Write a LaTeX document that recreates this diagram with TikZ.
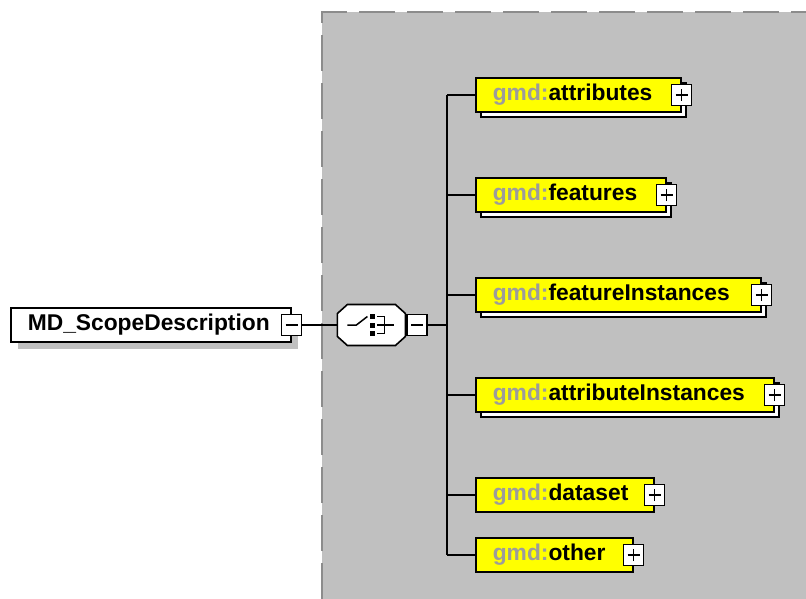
\documentclass[tikz,border=0pt]{standalone}
\usepackage{fontspec}
\setmainfont{Liberation Sans}
\usepackage{xcolor}
\usepackage{tikz}
\usetikzlibrary{positioning,shadows}
\definecolor{fundo}{HTML}{C0C0C0}
\definecolor{bordaRegiao}{HTML}{8C8C8C}
\definecolor{prefixo}{HTML}{9C9C9C}
\definecolor{amarelo}{HTML}{FFFF00}
\newcommand{\gmd}{\textcolor{prefixo}{gmd:}}
\tikzset{
    elemento/.style={
        rectangle,
        draw,
        line width=1.6pt,
        align=left,
        inner xsep=17pt,
        inner ysep=0pt,
        minimum height=34pt,
        font=\fontsize{22.8}{26}\selectfont\bfseries
    },
    raiz/.style={elemento, fill=white,
        drop shadow={shadow xshift=7pt, shadow yshift=-7pt, fill=fundo, opacity=1}},
    filho/.style={elemento, fill=amarelo},
    multiplo/.style={filho,
        copy shadow={shadow xshift=5pt, shadow yshift=-5pt, fill=white, draw=black, line width=1.6pt}},
    botao/.style={rectangle, draw, fill=white, line width=1.6pt,
        minimum width=20pt, minimum height=21pt, inner sep=0pt},
    recolhe/.style={botao,
        path picture={\draw[line width=1.5pt] ([xshift=-6pt]path picture bounding box.center) -- ([xshift=6pt]path picture bounding box.center);}},
    expande/.style={botao,
        path picture={\draw[line width=1.5pt] ([xshift=-6pt]path picture bounding box.center) -- ([xshift=6pt]path picture bounding box.center)
            ([yshift=-6pt]path picture bounding box.center) -- ([yshift=6pt]path picture bounding box.center);}},
    sequencia/.style={rectangle, minimum width=68pt, minimum height=41pt, inner sep=0pt, outer sep=0pt},
    octogono/.style={draw, fill=white, line width=1.6pt},
    ligacao/.style={line width=2pt},
    regiao/.style={draw=bordaRegiao, line width=2pt, dash pattern=on 36pt off 12pt}
}

\begin{document}
\begin{tikzpicture}[x=1pt, y=-1pt]
    \useasboundingbox (0,0) rectangle (806,599);
    % area do grupo
    \fill[fundo] (322,12) rectangle (806,599);
    \draw[regiao] (322,599) -- (322,12) -- (806,12);

    \node[raiz, text width=246pt, anchor=west] (raiz) at (10,325) {MD\_ScopeDescription};
    \node[recolhe] (raizmenos) at (raiz.east) {};
    \node[sequencia, right=35pt of raizmenos] (seq) {};
    \node[recolhe, right=1pt of seq] (seqmenos) {};
    \coordinate[right=19pt of seqmenos] (tronco);

    % simbolo de sequencia
    \draw[octogono] ([xshift=10pt]seq.north west) -- ([xshift=-10pt]seq.north east)
        -- ([yshift=-9pt]seq.north east) -- ([yshift=9pt]seq.south east)
        -- ([xshift=-10pt]seq.south east) -- ([xshift=10pt]seq.south west)
        -- ([yshift=9pt]seq.south west) -- ([yshift=-9pt]seq.north west) -- cycle;
    \begin{scope}[shift={(seq.center)}, line width=1.5pt]
        \draw (-24,0) -- (-15,0) -- (-4,-8.5);
        \foreach \dy in {-8.5,0,8.5}
            \fill (-1,\dy-2.5) rectangle ++(5,5);
        \draw (6,-8.5) -- (13,-8.5) -- (13,8.5) -- (6,8.5);
        \draw (6,0) -- (23,0);
    \end{scope}

    \node[multiplo, text width=171pt, anchor=west] (attr) at (475,95) {\gmd attributes};
    \node[multiplo, text width=156pt, below=100pt of attr.west, anchor=west] (feat) {\gmd features};
    \node[multiplo, text width=251pt, below=100pt of feat.west, anchor=west] (featinst) {\gmd featureInstances};
    \node[multiplo, text width=264pt, below=100pt of featinst.west, anchor=west] (attrinst) {\gmd attributeInstances};
    \node[filho, text width=144pt, below=100pt of attrinst.west, anchor=west] (dados) {\gmd dataset};
    \node[filho, text width=123pt, below=60pt of dados.west, anchor=west] (outro) {\gmd other};

    \foreach \f in {attr,feat,featinst,attrinst,dados,outro}
        \node[expande] (\f mais) at (\f.east) {};

    \draw[ligacao] (raizmenos) -- (seq);
    \draw[ligacao] (seqmenos) -- (tronco);
    \draw[ligacao] (tronco |- attr.west) -- (tronco |- outro.west);
    \foreach \f in {attr,feat,featinst,attrinst,dados,outro}
        \draw[ligacao] (tronco |- \f.west) -- (\f);
\end{tikzpicture}
\end{document}
